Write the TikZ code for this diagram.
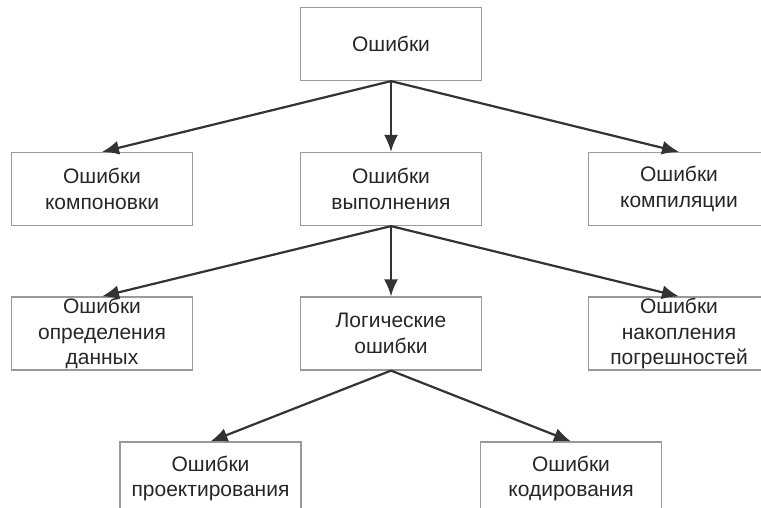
\documentclass[tikz,border=0pt]{standalone}
\usepackage{fontspec}
\setmainfont{Liberation Sans}
\usetikzlibrary{arrows.meta}
\tikzset{ebox/.style={draw=black!40,line width=1.2pt,minimum width=181pt,minimum height=73pt,
    inner sep=0pt,align=center,font=\fontsize{21}{25.5}\selectfont,text=black!85},
  earrow/.style={-{Latex[length=17pt,width=14pt]},line width=2.2pt,draw=black!80}}

\begin{document}
\begin{tikzpicture}[x=1pt,y=-1pt]
        % frame of the picture
        \useasboundingbox (0,0) rectangle (761,508);
        \clip (0,0) rectangle (761,508);
        % draw the boxes
        \node[ebox] (err) at (391,44) {Ошибки};
        \node[ebox] (link) at (102,189) {Ошибки\\компоновки};
        \node[ebox] (run) at (391,189) {Ошибки\\выполнения};
        \node[ebox] (comp) at (679,189) {Ошибки\\компиляции};
        \node[ebox] (data) at (102,333.5) {Ошибки\\определения\\данных};
        \node[ebox] (logic) at (391,333.5) {Логические\\ошибки};
        \node[ebox] (acc) at (679,333.5) {Ошибки\\накопления\\погрешностей};
        \node[ebox] (design) at (210.5,478.5) {Ошибки\\проектирования};
        \node[ebox] (code) at (571,478.5) {Ошибки\\кодирования};
        % draw the arrows
        \draw[earrow] (err.south) -- (link.north);
        \draw[earrow] (err.south) -- (run.north);
        \draw[earrow] (err.south) -- (comp.north);
        \draw[earrow] (run.south) -- (data.north);
        \draw[earrow] (run.south) -- (logic.north);
        \draw[earrow] (run.south) -- (acc.north);
        \draw[earrow] (logic.south) -- (design.north);
        \draw[earrow] (logic.south) -- (code.north);
    \end{tikzpicture}
\end{document}
